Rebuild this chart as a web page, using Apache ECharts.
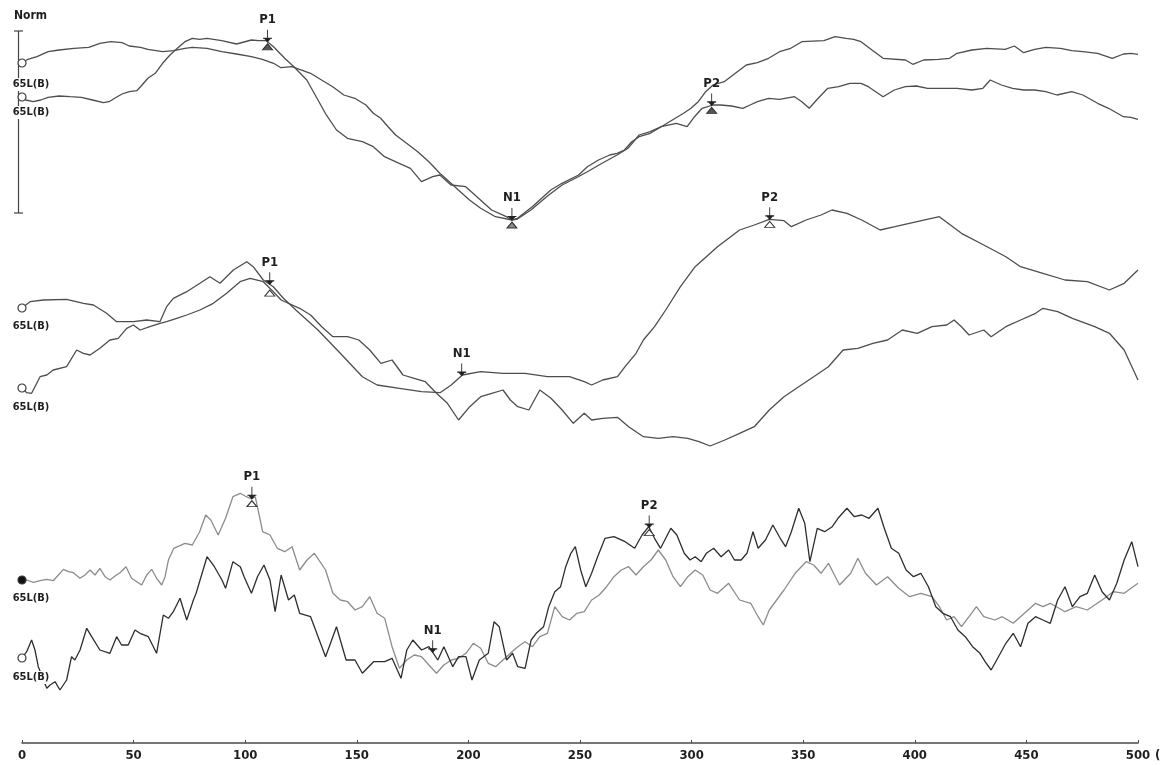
<!DOCTYPE html>
<html>
<head>
<meta charset="utf-8">
<title>65L(B) evoked responses</title>
<script src="https://cdn.jsdelivr.net/npm/echarts@6/dist/echarts.min.js"></script>
<style>
  html, body { margin: 0; padding: 0; background: #ffffff; }
  #chart { width: 1160px; height: 765px; }
</style>
</head>
<body>
<div id="chart"></div>
<script>
// Latency axis (ms)
const xMin = 0;
const xMax = 500;
const xStep = 50;

// Each trace: [latency ms, amplitude] — amplitude in display units, positive up,
// measured from the trace's own starting level.
const panel1A = [
  [0,0],[2.6,3.7],[6.7,6.3],[11.7,11.3],[16.6,13],[23.3,14.7],[29.9,15.7],[34.9,19.7],[39.8,21.3],
  [44.8,20.3],[48.1,17],[53.1,15.7],[56.4,13.7],[63,11.3],[68,12.3],[73,14.7],[76.3,15.7],[82.9,14.7],
  [89.5,11.3],[96.1,9],[102.8,6.3],[107.7,3.7],[112.7,-0.3],[116,-4.7],[121,-3.7],[124.3,-6.3],
  [129.3,-10.3],[134.2,-17],[139.2,-23.7],[144.2,-32],[149.1,-35.3],[154.1,-42],[157.4,-50.3],
  [160.7,-55.3],[164,-63.7],[167.4,-72],[172.3,-80.3],[177.3,-88.7],[182.3,-98.7],[187.2,-110.3],
  [190.6,-117],[195.5,-127],[200.5,-137],[205.5,-145.3],[212.1,-153.7],[219.5,-157],[222,-155.3],
  [228.6,-143.7],[236.9,-127],[241.9,-120.3],[249.4,-112],[253.3,-103.7],[258.3,-97],[263.3,-92],
  [266.6,-90.3],[269.9,-87],[273.2,-78.7],[276.5,-73.7],[281.5,-70.3],[286.4,-63.7],[291.4,-57],
  [296.4,-50.3],[299.7,-45.3],[303,-38.7],[306.3,-28.7],[309.6,-22],[314.6,-18.7],[319.6,-10.3],
  [324.5,-2],[329.5,0.3],[334.5,4.7],[339.4,11.3],[344.4,14.7],[349.4,21.3],[359.3,22.3],[364.3,26.3],
  [369.3,24.7],[372.6,23.7],[375.9,21.3],[380.8,13],[385.8,4.7],[395.8,3],[399.1,-1.3],[404,3],
  [410.7,3.7],[415.6,4.7],[418.9,9.7],[425.6,13],[432.2,14.7],[440.5,13.7],[444.6,17],[448.8,10.3],
  [453.7,13.7],[458.7,15.7],[465.3,14.7],[470.3,12.3],[475.3,11.3],[481.9,9.7],[488.5,4.7],
  [493.5,9],[496.8,9.7],[500,8.7]
];
const panel1B = [
  [0,0],[1.7,-3],[5,-4.7],[8.4,-3],[11.7,-0.3],[16.6,1],[21.6,0.3],[26.6,-0.3],[31.6,-3],[36.5,-5.7],
  [39,-4.7],[41.5,-1.3],[44.8,3],[48.1,5.3],[51.4,6.3],[53.1,10.3],[56.4,18.7],[59.7,23.7],[63,33.7],
  [66.3,42],[69.6,48.7],[73,55.3],[76.3,58.7],[79.6,57.7],[82.9,58.7],[89.5,56.3],[96.1,53],
  [102.8,57],[106.1,56.3],[109.4,56.3],[112.7,50.3],[117.7,38.7],[121.8,30.3],[127.6,17],[132.6,-3],
  [135.9,-16.3],[140.9,-33],[145.8,-41.3],[152.5,-44.7],[157.4,-49.7],[162.4,-59.7],[169,-66.3],
  [174,-71.3],[179,-84.7],[184,-79.7],[187.2,-78],[192.2,-88],[198.8,-89.7],[203.8,-99.7],
  [210.4,-113],[217,-119.7],[219.5,-123],[222,-122],[228,-113],[236,-98],[242,-88],[249,-80],
  [253.3,-74.7],[259.9,-66.3],[266.6,-58],[271.5,-51.3],[276.5,-38],[281.5,-34.7],[286.4,-29.7],
  [293.1,-26.3],[298,-29.7],[301.3,-19.7],[304.7,-11.3],[309.6,-8],[312.9,-8],[317.9,-9],
  [322.9,-11.3],[326.2,-8],[329.5,-4.7],[334.5,-1.3],[339.4,-2.3],[346.1,0.3],[349.4,-4.7],
  [352.7,-11.3],[356,-3],[361,8.7],[365.9,10.3],[370.9,13.7],[375.9,13.7],[379.2,10.3],[382.5,5.3],
  [385.8,0.3],[390.8,7],[395.8,10.3],[400.7,11],[405.7,8.7],[412.3,8.7],[418.9,8.7],[425.6,7],
  [430.5,8.7],[433.8,17],[438.8,12],[443.8,8.7],[448.8,7],[453.7,7],[458.7,5.3],[463.7,2],
  [470.3,5.3],[475.3,2],[481.9,-6.3],[486.8,-11.3],[493.5,-19.7],[496.8,-20.3],[500,-22.3]
];
const panel2C = [
  [0,0],[3.6,6.3],[9.6,8],[20,8.7],[27.5,4.7],[32,3],[37.9,-5.3],[42.4,-13.7],[49.9,-13.7],[55.9,-12],
  [61.8,-13.7],[64.8,1.3],[67.8,9.7],[73.8,16.3],[79.7,24.7],[84.2,31.3],[88.7,24.7],[94.7,38],
  [100.7,46.3],[103.6,41.3],[108.1,28],[112.6,21.3],[117,10],[122.7,-2],[132.6,-22],[142.6,-45.3],
  [152.5,-68.7],[159.1,-77],[169.1,-80.3],[179,-83.7],[187.3,-84.7],[192.3,-77],[197.3,-67],
  [205.5,-63.7],[215.5,-65.3],[225.4,-65.3],[235.4,-68.7],[245.3,-68.7],[251.9,-73.7],[255.2,-77],
  [260.2,-72],[266.8,-68.7],[270.2,-58.7],[275.1,-45.3],[278.4,-32],[283.4,-18.7],[288.4,-2],
  [295,21.3],[301.6,41.3],[311.6,61.3],[321.5,78],[328.1,83],[334.8,88.7],[341.4,87.3],[344.7,81.3],
  [351.3,88],[358,93],[362.9,98],[369.6,94.7],[376.2,88],[384.5,78],[391.1,81.3],[401,86.3],
  [411,91.3],[420.9,74.7],[430.9,63],[440.8,51.3],[447.4,41.3],[457.4,34.7],[467.3,28],[477.3,26.3],
  [487.2,18],[493.8,24.7],[500,38]
];
const panel2D = [
  [0,0],[2.1,-4.7],[4.3,-5.3],[8.1,11.3],[11.1,13],[14,18],[20,21.3],[24.5,38],[27.5,34.7],[30.5,33],
  [34.9,39.7],[39.4,48],[43.1,49.7],[46.9,59.7],[49.9,63],[52.9,58],[57.3,61.3],[61.8,64.7],
  [64.8,66.3],[69.3,69.7],[73.8,73],[79.7,78],[85.7,84.7],[91.7,94.7],[97.7,106.3],[102.2,109.7],
  [108.1,106.3],[112.6,96.3],[116.1,88],[124.4,79.7],[129.3,73],[134.3,61.3],[139.3,51.3],
  [145.9,51.3],[150.9,48],[155.8,38],[160.8,24.7],[165.8,28],[170.7,13],[175.7,9.7],[180.7,6.3],
  [185.7,-5.3],[190.6,-15.3],[195.6,-32],[200.6,-18.7],[205.5,-8.7],[210.5,-5.3],[215.5,-2],
  [218.8,-12],[222.1,-18.7],[227.1,-22],[232,-2],[237,-10.3],[242,-22],[247,-35.3],[251.9,-25.3],
  [255.2,-32],[260.2,-30.3],[266.8,-29.3],[271.8,-38.7],[278.4,-48.7],[285.1,-50.3],[291.7,-48.7],
  [298.3,-50.3],[303.3,-53.7],[308.3,-58],[314.9,-52],[321.5,-45.3],[328.1,-38.7],[334.8,-22],
  [341.4,-8.7],[348,1.3],[354.7,11.3],[361.3,21.3],[367.9,38],[374.5,39.7],[381.2,44.7],[387.8,48],
  [394.4,58],[401.1,54.7],[407.7,61.3],[414.3,63],[417.6,68],[420.9,61.3],[424.3,53],[430.9,58],
  [434.2,51.3],[440.8,61.3],[447.4,68],[454.1,74.7],[457.4,79.7],[464,76.3],[470.6,69.7],
  [480.6,61.3],[487.2,54.7],[493.8,38],[500,8]
];
const panel3E = [
  [0,0],[2.1,0],[5.1,-2.3],[8.1,-0.7],[11.1,0.7],[14,-0.7],[17,6.7],[18.5,10.7],[20.8,8.3],[23,7.3],
  [26,1.7],[28.2,5],[30.5,10],[32.7,5],[34.9,11.7],[37.2,3.3],[39.4,0],[41.7,4],[43.9,7.3],[46.6,13.3],
  [49.1,1.7],[51.4,-1.7],[53.6,-5],[55.9,5],[58.1,10.7],[60.3,1.7],[62.6,-5],[64.1,3.3],[65.6,20],
  [68,31.7],[73,36.7],[76.3,35],[79.6,48.3],[82.3,65],[84.6,60],[87.9,45],[91.2,61.7],[94.5,83.3],
  [97.8,86.7],[100.5,83.3],[102.8,81],[104.5,83.3],[106.1,66.7],[107.8,48.3],[111.1,45],[114.4,31.7],
  [117.7,28.3],[121,33.3],[124.4,10],[127.7,20],[131,26.7],[136,10],[139.3,-13.3],[142.6,-20],
  [145.9,-21.7],[149.2,-30],[152.5,-26.7],[155.8,-16.7],[159.1,-33.3],[162.5,-38.3],[165.8,-66.7],
  [169.1,-88.3],[172.4,-80],[175.7,-75],[179,-76.7],[182.3,-85],[185.7,-93.3],[189,-85],[192.3,-80],
  [195.6,-78.3],[198.9,-73.3],[202.2,-63.3],[205.5,-68.3],[208.9,-83.3],[212.2,-86.7],[215.5,-80],
  [218.8,-73.3],[222.1,-66.7],[225.4,-61.7],[228.7,-66.7],[232,-56.7],[235.4,-53.3],[238.7,-26.7],
  [242,-36.7],[245.3,-40],[248.6,-33.3],[251.9,-31.7],[255.2,-20],[258.6,-15],[261.9,-6.7],
  [265.2,3.3],[268.5,10],[271.8,13.3],[275.1,5],[278.4,13.3],[281.8,20],[285.1,30],[288.4,20],
  [291.7,3.3],[295,-6.7],[298.3,3.3],[301.6,10],[305,5],[308.3,-10],[311.6,-13.3],[316.6,-3.3],
  [321.5,-20],[326.5,-23.3],[329.8,-36.7],[332.1,-45],[334.8,-30],[338.1,-20],[341.4,-10],
  [346.4,6.7],[351.3,18.3],[354.7,15],[358,6.7],[361.3,16.7],[366.3,-5],[371.3,6.7],[374.5,21.7],
  [377.9,6.7],[382.8,-5],[387.8,3.3],[392.8,-8.3],[397.7,-16.7],[402.7,-13.3],[407.7,-16.7],
  [411,-26.7],[414.3,-40],[417.6,-36.7],[420.9,-46.7],[424.3,-36.7],[427.6,-26.7],[430.9,-36.7],
  [435.9,-40],[439.2,-36.7],[444.1,-43.3],[449.1,-33.3],[454.1,-23.3],[457.4,-26.7],[460.7,-23.3],
  [467.3,-31.7],[472.3,-26.7],[477.3,-30],[483.9,-20],[488.9,-11.7],[493.8,-13.3],[500,-3.3]
];
const panel3F = [
  [0,0],[2.1,6.3],[4.3,18],[5.8,8],[7.3,-8.7],[8.8,-17],[11.1,-30.3],[12.6,-27],[14.8,-23.7],[17,-32],
  [20,-22],[22.2,1.3],[23.7,-2],[26,8],[29,29.7],[31.2,21.3],[34.9,8],[39.4,4.7],[42.4,21.3],[44.6,13],
  [47.6,13],[50.6,28],[52.9,24.7],[56.6,21.3],[60.3,4.7],[63.3,43],[65.6,39.7],[67.8,46.3],[70.8,59.7],
  [73.8,38],[76.8,58],[78,64.7],[82.9,101.3],[86.2,91.3],[89.6,78],[91.2,69.7],[94.5,96.3],[97.8,91.3],
  [99.5,81.3],[102.8,64.7],[105.5,81.3],[108.4,93],[111.1,78],[113.4,46.3],[116.1,83],[119.4,58],
  [122,63],[124.4,44.7],[129.3,41.3],[136,1.3],[140.9,31.3],[145.2,-2],[149.2,-2],[152.5,-15.3],
  [157.5,-3.7],[162.5,-3.7],[165.8,-0.3],[169.8,-20.3],[172.4,8],[175.1,18],[179,8],[182.3,11.3],
  [186.3,-2],[189,11.3],[193,-8.7],[195.6,1.3],[198.9,1.3],[201.6,-22],[204.9,-2],[208.9,4.7],
  [211.5,36.3],[213.8,31.3],[217.1,-2],[219.8,4.7],[222.1,-8.7],[225.4,-10.3],[228.1,18],[230.4,24.7],
  [233.7,31.3],[236,51.3],[238.7,66.3],[241.3,71.3],[243.6,91.3],[245.9,104.7],[247.9,111.3],
  [250.3,88],[252.6,71.3],[255.2,84.7],[257.9,101.3],[261.2,119.7],[265.2,121.3],[270.2,116.3],
  [274.5,109.7],[277.8,123],[280.8,131.3],[283.4,119.7],[286.1,109.7],[288.4,119.7],[290.7,129.7],
  [293.4,123],[296.7,104.7],[299.3,98],[301.6,101.3],[304.3,96.3],[306.6,104.7],[309.9,109.7],
  [313.2,101.3],[316.6,108],[319.2,98],[322.2,98],[324.8,104.7],[327.5,126.3],[329.8,109.7],
  [333.1,118],[336.4,133],[339.7,119.7],[342.1,111.3],[344.7,126.3],[348,149.7],[350.7,134.7],
  [353,96.3],[356.3,129.7],[359.6,126.3],[363,131.3],[365.6,139.7],[369.6,149.7],[372.9,141.3],
  [376.2,143],[379.5,139.7],[383.5,149.7],[386.1,131.3],[389.5,109.7],[392.8,104.7],[396.1,88],
  [399.4,81.3],[402.7,84.7],[406.1,71.3],[409.4,51.3],[412.6,44.7],[416,41.3],[419.3,28],[422.6,21.3],
  [425.9,11.3],[429.2,4.7],[431.5,-3.7],[434.2,-12],[437.5,1.3],[440.8,14.7],[444.1,24.7],[447.4,11.3],
  [450.7,34.7],[454.1,41.3],[457.4,38],[460.7,34.7],[464,58],[467.3,71.3],[470.6,51.3],[474,61.3],
  [477.3,64.7],[480.6,83],[483.9,66.3],[487.2,58],[490.5,74.7],[493.8,98],[497.2,116.3],[500,91.3]
];

const traceLabels = ['65L(B)', '65L(B)', '65L(B)', '65L(B)', '65L(B)', '65L(B)'];

// Component peaks: label, latency, trace carrying the arrow, trace carrying the triangle
const peakNames = ['P1', 'N1', 'P2', 'P1', 'N1', 'P2', 'P1', 'N1', 'P2'];
const peakLatency = [110, 219.5, 309, 111, 197, 335, 103, 184, 281];
const peakArrowTrace = [1, 0, 1, 2, 2, 2, 4, 5, 5];
const peakTriangleTrace = [1, 0, 1, 3, -1, 2, 4, -1, 5];

const traceData = [panel1A, panel1B, panel2C, panel2D, panel3E, panel3F];

// Drawing layout / style per trace: vertical placement of the start level (px from top),
// line colour, start marker and label gap.
const traceStyle = [
  { base: 63,  color: '#4e4e4e', filled: false, gap: 10.5, triFill: '#8a8a8a' },
  { base: 97,  color: '#4e4e4e', filled: false, gap: 4.5,  triFill: '#555555' },
  { base: 308, color: '#4e4e4e', filled: false, gap: 7.5,  triFill: '#ffffff' },
  { base: 388, color: '#4e4e4e', filled: false, gap: 8.5,  triFill: '#ffffff' },
  { base: 580, color: '#8c8c8c', filled: true,  gap: 7.5,  triFill: '#ffffff' },
  { base: 658, color: '#2e2e2e', filled: false, gap: 8.5,  triFill: '#ffffff' }
];

const FONT = "'Liberation Sans Narrow', 'DejaVu Sans Condensed', 'Arial Narrow', 'Liberation Sans', sans-serif";
const PLOT_LEFT = 22, PLOT_RIGHT = 22, PLOT_TOP = 0, PLOT_BOTTOM = 22;
const PLOT_H = 765 - PLOT_TOP - PLOT_BOTTOM;

function valueAt(data, t) {
  for (let i = 1; i < data.length; i++) {
    if (data[i][0] >= t) {
      const [t0, v0] = data[i - 1], [t1, v1] = data[i];
      return v0 + (v1 - v0) * (t - t0) / (t1 - t0);
    }
  }
  return data[data.length - 1][1];
}

const ARROW = 'path://M4.5,0 L4.5,12 M0,8.5 L9,8.5 M1.5,8.5 L4.5,12 L7.5,8.5 Z';

const grids = [], xAxes = [], yAxes = [], series = [];
traceData.forEach((data, i) => {
  const st = traceStyle[i];
  grids.push({ left: PLOT_LEFT, right: PLOT_RIGHT, top: PLOT_TOP, bottom: PLOT_BOTTOM, containLabel: false });
  const visible = i === 0;
  xAxes.push({
    type: 'value', gridIndex: i, min: xMin, max: xMax, interval: xStep, show: visible,
    axisLine: { show: true, onZero: false, lineStyle: { color: '#4a4a4a', width: 1.5 } },
    axisTick: { show: true, inside: true, length: 3, lineStyle: { color: '#4a4a4a', width: 1 } },
    axisLabel: { show: true, margin: 6, color: '#1e1e1e', fontSize: 13, fontWeight: 'bold', fontFamily: FONT },
    splitLine: { show: false }
  });
  yAxes.push({ type: 'value', gridIndex: i, min: st.base - PLOT_H, max: st.base, show: false, splitLine: { show: false } });

  const marks = [];
  marks.push({
    coord: data[0], symbol: 'circle', symbolSize: 8,
    itemStyle: { color: st.filled ? '#111111' : '#ffffff', borderColor: '#3a3a3a', borderWidth: 1.2 },
    label: {
      show: true, formatter: traceLabels[i], position: 'bottom', distance: st.gap, offset: [9, 0],
      color: '#1e1e1e', fontSize: 11, fontWeight: 'bold', fontFamily: FONT, lineHeight: 13,
      backgroundColor: '#ffffff', padding: [0, 1]
    }
  });
  peakNames.forEach((name, k) => {
    if (peakArrowTrace[k] === i) {
      marks.push({
        coord: [peakLatency[k], valueAt(data, peakLatency[k])],
        symbol: ARROW, symbolSize: [9, 12], symbolOffset: [0, -6],
        itemStyle: { color: '#222222', borderColor: '#222222', borderWidth: 1 },
        label: {
          show: true, formatter: name, position: 'top', distance: 3,
          color: '#1e1e1e', fontSize: 13, fontWeight: 'bold', fontFamily: FONT
        }
      });
    }
    if (peakTriangleTrace[k] === i) {
      marks.push({
        coord: [peakLatency[k], valueAt(data, peakLatency[k])],
        symbol: 'triangle', symbolSize: [10, 6], symbolOffset: [0, 5],
        itemStyle: { color: st.triFill, borderColor: '#333333', borderWidth: 1 },
        label: { show: false }
      });
    }
  });

  series.push({
    type: 'line', xAxisIndex: i, yAxisIndex: i, data: data,
    showSymbol: false, silent: true, animation: false,
    lineStyle: { color: st.color, width: 1.3 },
    markPoint: { silent: true, animation: false, data: marks }
  });
});

const chart = echarts.init(document.getElementById('chart'), null, { renderer: 'canvas' });
chart.setOption({
  backgroundColor: '#ffffff',
  animation: false,
  textStyle: { fontFamily: FONT },
  grid: grids,
  xAxis: xAxes,
  yAxis: yAxes,
  series: series,
  graphic: [
    { type: 'text', left: 14, top: 10, z: 1,
      style: { text: 'Norm', fill: '#1e1e1e', font: 'bold 12px ' + FONT } },
    { type: 'line', z: 0, shape: { x1: 18.5, y1: 31, x2: 18.5, y2: 213 }, style: { stroke: '#444444', lineWidth: 1.2 } },
    { type: 'line', z: 0, shape: { x1: 14, y1: 31, x2: 23, y2: 31 }, style: { stroke: '#444444', lineWidth: 1.2 } },
    { type: 'line', z: 0, shape: { x1: 14, y1: 213, x2: 23, y2: 213 }, style: { stroke: '#444444', lineWidth: 1.2 } },
    { type: 'text', left: 1155, top: 749, z: 1,
      style: { text: '(ms)', fill: '#1e1e1e', font: 'bold 13px ' + FONT } }
  ]
});
</script>
</body>
</html>
